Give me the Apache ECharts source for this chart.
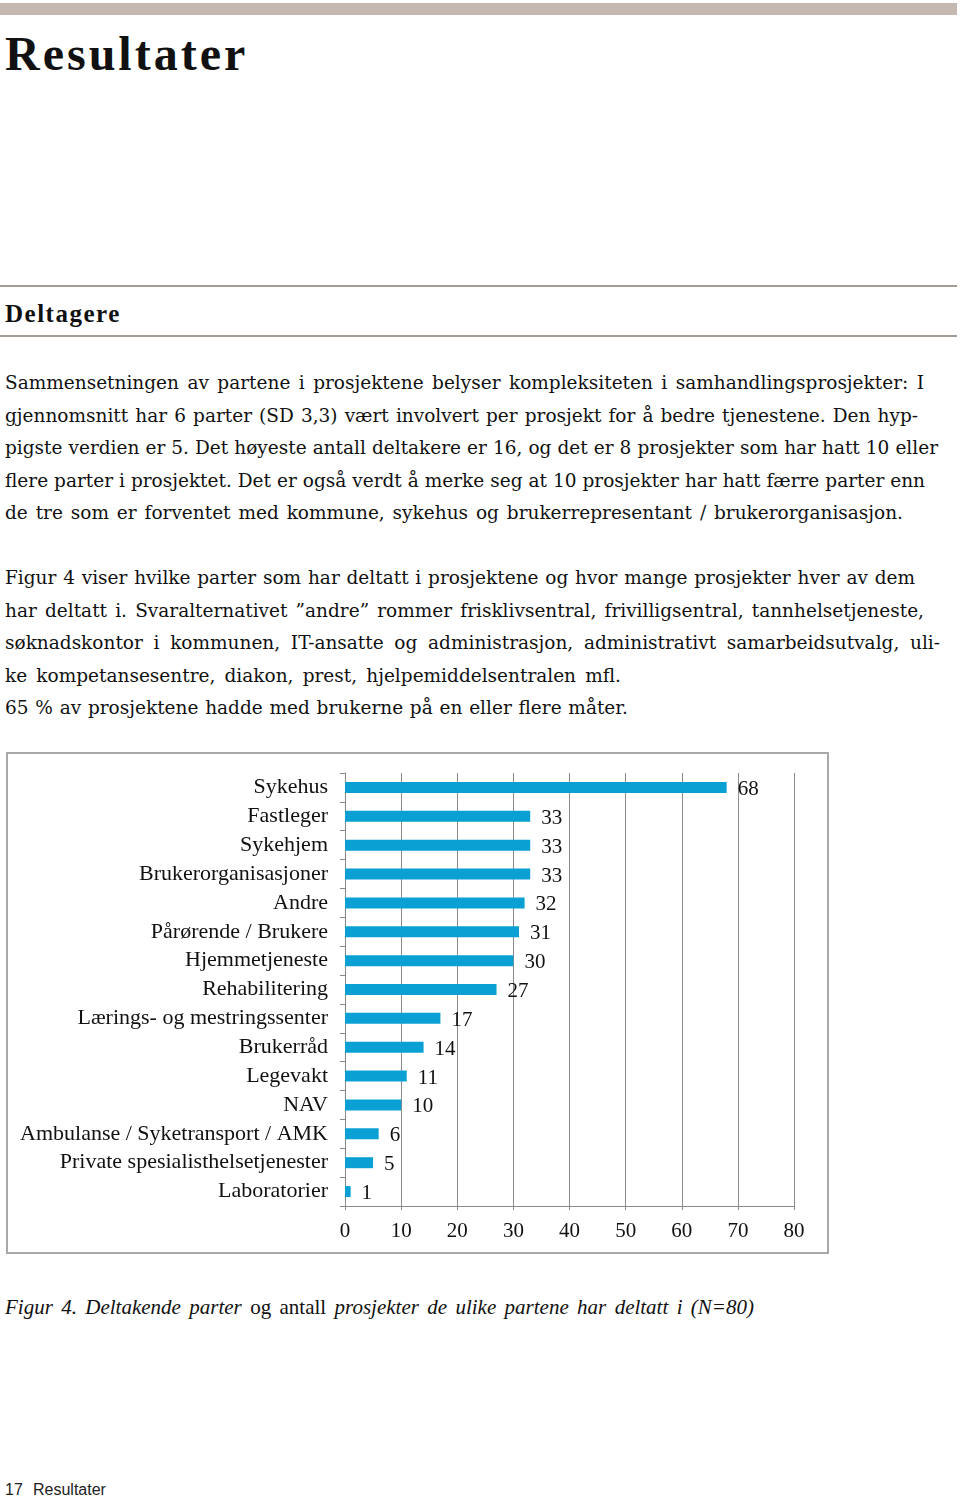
<!DOCTYPE html>
<html><head><meta charset="utf-8">
<script src="https://cdn.jsdelivr.net/npm/echarts@6/dist/echarts.min.js"></script>
<style>
html,body{margin:0;padding:0;background:#fff;}
body{width:960px;height:1497px;position:relative;overflow:hidden;color:#111;font-family:"Liberation Serif",serif;}
.abs{position:absolute;}
.bar{left:0;top:3px;width:957px;height:12px;background:#c5b8b1;}
.rule{left:0;width:957px;height:2px;background:#a59c96;}
h1{position:absolute;margin:0;left:5px;top:30px;font-size:48px;line-height:48px;font-weight:bold;letter-spacing:3px;}
h2{position:absolute;margin:0;left:5px;top:301px;font-size:25px;line-height:25px;font-weight:bold;letter-spacing:1.5px;}
.para{position:absolute;left:5px;font-family:"DejaVu Serif",serif;font-size:18.5px;line-height:32.5px;}
.para div{text-align:justify;text-align-last:justify;}
.box{left:6px;top:752px;width:823px;height:502px;box-sizing:border-box;border:2px solid #a8a8a8;}
#chart{position:absolute;left:8px;top:754px;width:819px;height:498px;}
.cap{left:5px;top:1297px;width:749px;font-size:21px;line-height:20px;font-style:italic;text-align:justify;text-align-last:justify;}
.cap span{font-style:normal;}
.foot{top:1482px;font-family:"Liberation Sans",sans-serif;font-size:16px;line-height:16px;color:#222;}
</style></head>
<body>
<div class="abs bar"></div>
<h1>Resultater</h1>
<div class="abs rule" style="top:285px"></div>
<h2>Deltagere</h2>
<div class="abs rule" style="top:335px"></div>
<div class="para" style="top:367px">
<div style="width:919px">Sammensetningen av partene i prosjektene belyser kompleksiteten i samhandlingsprosjekter: I</div>
<div style="width:913px">gjennomsnitt har 6 parter (SD 3,3) vært involvert per prosjekt for å bedre tjenestene. Den hyp-</div>
<div style="width:933px">pigste verdien er 5. Det høyeste antall deltakere er 16, og det er 8 prosjekter som har hatt 10 eller</div>
<div style="width:920px">flere parter i prosjektet. Det er også verdt å merke seg at 10 prosjekter har hatt færre parter enn</div>
<div style="width:898px">de tre som er forventet med kommune, sykehus og brukerrepresentant / brukerorganisasjon.</div>
</div>
<div class="para" style="top:562px">
<div style="width:910px">Figur 4 viser hvilke parter som har deltatt i prosjektene og hvor mange prosjekter hver av dem</div>
<div style="width:919px">har deltatt i. Svaralternativet ”andre” rommer frisklivsentral, frivilligsentral, tannhelsetjeneste,</div>
<div style="width:935px">søknadskontor i kommunen, IT-ansatte og administrasjon, administrativt samarbeidsutvalg, uli-</div>
<div style="width:616px">ke kompetansesentre, diakon, prest, hjelpemiddelsentralen mfl.</div>
<div style="width:623px">65 % av prosjektene hadde med brukerne på en eller flere måter.</div>
</div>
<div class="abs box"></div>
<div id="chart"></div>
<div class="abs cap">Figur 4. Deltakende parter <span>og antall</span> prosjekter de ulike partene har deltatt i (N=80)</div>
<div class="abs foot" style="left:5px">17</div>
<div class="abs foot" style="left:33px">Resultater</div>
<script>
const categories = ["Sykehus","Fastleger","Sykehjem","Brukerorganisasjoner","Andre","Pårørende / Brukere","Hjemmetjeneste","Rehabilitering","Lærings- og mestringssenter","Brukerråd","Legevakt","NAV","Ambulanse / Syketransport / AMK","Private spesialisthelsetjenester","Laboratorier"];
const counts = [68,33,33,33,32,31,30,27,17,14,11,10,6,5,1];
const xMin = 0, xMax = 80, xStep = 10;

const chart = echarts.init(document.getElementById('chart'), null, {renderer:'canvas'});
const txt = {fontFamily:'Liberation Serif', fontSize:21, color:'#111'};
chart.setOption({
  animation:false,
  grid:{left:337, right:33, top:19, bottom:46, containLabel:false},
  xAxis:{type:'value', min:xMin, max:xMax, interval:xStep,
    axisLine:{show:true, lineStyle:{color:'#8a8a8a', width:1}},
    axisTick:{show:true, length:4, lineStyle:{color:'#8a8a8a'}},
    splitLine:{show:true, lineStyle:{color:'#8a8a8a', width:1}},
    axisLabel:Object.assign({margin:15}, txt)},
  yAxis:{type:'category', inverse:true, data:categories,
    axisLine:{show:true, lineStyle:{color:'#8a8a8a', width:1}},
    axisTick:{show:true, length:5, lineStyle:{color:'#8a8a8a'}},
    axisLabel:Object.assign({margin:17}, txt, {fontSize:22})},
  series:[{type:'bar', data:counts, barWidth:11,
    itemStyle:{color:'#0aa0d3'},
    label:Object.assign({show:true, position:'right', distance:11, offset:[0,2]}, txt)}]
});
</script>
</body></html>
